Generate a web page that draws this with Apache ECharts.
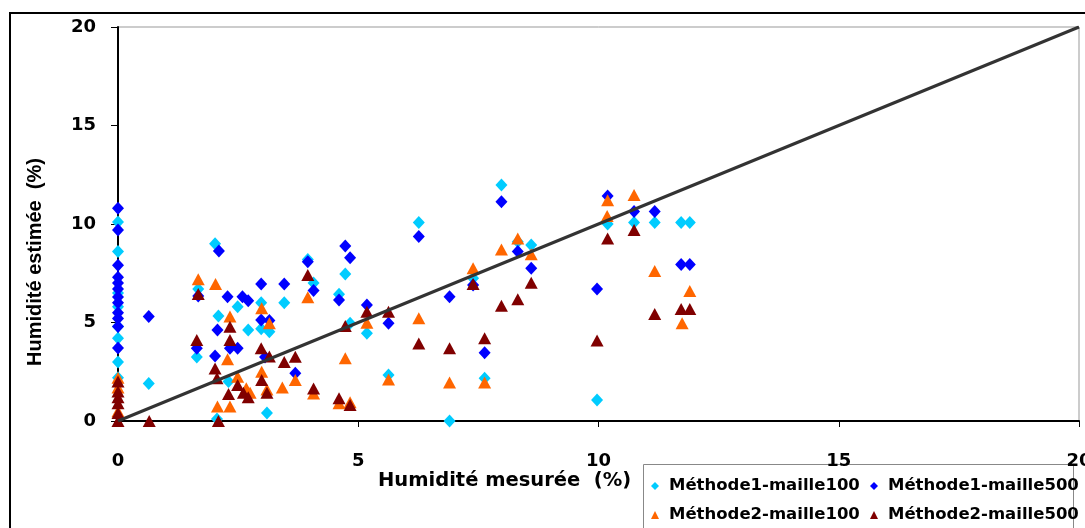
<!DOCTYPE html>
<html>
<head>
<meta charset="utf-8">
<style>
  html, body { margin: 0; padding: 0; background: #fff; }
  #chart { width: 1085px; height: 528px; }
</style>
<script src="https://cdn.jsdelivr.net/npm/echarts@6/dist/echarts.min.js"></script>
</head>
<body>
<div id="chart"></div>
<script>
// 散点数据 [humidité mesurée, humidité estimée]
const methode1Maille100 = [
  [0, 10.1], [0, 8.6], [0, 6.5], [0, 5.8], [0, 4.8], [0, 4.2], [0, 3.0], [0, 2.2],
  [0.64, 1.9], [1.67, 6.7], [1.64, 3.25],
  [2.02, 9.0], [2.09, 5.33], [2.06, 0.1], [2.49, 5.8], [2.3, 2.0], [2.71, 4.62],
  [2.98, 6.0], [2.98, 4.68], [3.15, 4.53], [3.1, 0.4], [3.46, 6.0],
  [3.95, 8.2], [4.07, 7.0], [4.6, 6.43], [4.73, 7.46], [4.83, 4.96], [5.18, 4.45],
  [5.63, 2.33], [6.26, 10.07], [6.9, 0], [7.39, 7.24], [7.63, 2.17], [7.98, 11.98],
  [8.32, 9.1], [8.6, 8.93], [9.97, 1.07], [10.19, 10.0], [10.74, 10.07],
  [11.17, 10.07], [11.72, 10.07], [11.9, 10.07]
];
const methode1Maille500 = [
  [0, 10.8], [0, 9.7], [0, 7.9], [0, 7.3], [0, 7.0], [0, 6.7], [0, 6.3], [0, 6.0],
  [0, 5.5], [0, 5.2], [0, 4.8], [0, 3.7],
  [0.64, 5.3], [1.67, 6.35], [1.64, 3.69],
  [2.1, 8.63], [2.07, 4.62], [2.02, 3.3], [2.28, 6.31], [2.59, 6.31], [2.71, 6.1],
  [2.33, 3.69], [2.49, 3.69], [2.98, 6.95], [2.98, 5.13], [3.06, 3.25], [3.15, 5.1],
  [3.46, 6.95], [3.69, 2.42], [3.95, 8.09], [4.07, 6.62], [4.6, 6.14], [4.73, 8.88],
  [4.83, 8.29], [5.18, 5.89], [5.63, 4.96], [6.26, 9.36],
  [6.9, 6.31], [7.39, 6.9], [7.63, 3.47], [7.98, 11.13], [8.32, 8.6], [8.6, 7.75],
  [9.97, 6.7], [10.19, 11.42], [10.74, 10.63], [11.17, 10.63], [11.72, 7.95], [11.9, 7.95]
];
const methode2Maille100 = [
  [0, 2.2], [0, 1.7], [0, 0.5],
  [1.67, 7.19], [2.03, 6.95], [2.33, 5.3], [2.99, 5.72], [3.15, 4.96], [2.28, 3.13],
  [2.99, 2.5], [2.49, 2.25], [2.67, 1.66], [2.75, 1.44], [3.42, 1.7], [3.1, 1.6],
  [2.07, 0.73], [2.33, 0.73],
  [3.69, 2.08], [3.95, 6.28], [4.07, 1.4], [4.73, 3.18], [4.6, 0.9], [4.83, 0.95],
  [5.18, 4.99], [5.63, 2.11], [6.26, 5.21], [6.9, 1.95], [7.39, 7.75], [7.63, 1.95],
  [7.98, 8.71], [8.32, 9.27], [8.6, 8.46], [10.19, 11.2], [10.18, 10.41],
  [10.74, 11.47], [11.17, 7.61], [11.9, 6.6], [11.74, 4.96]
];
const methode2Maille500 = [
  [0, 2.0], [0, 1.5], [0, 1.2], [0, 0.9], [0, 0.4], [0, 0],
  [0.65, 0], [1.67, 6.45], [1.64, 4.11], [2.33, 4.79], [2.33, 4.11], [2.98, 3.69],
  [3.15, 3.27], [2.02, 2.67], [2.06, 2.17], [2.99, 2.08], [2.49, 1.83], [2.61, 1.44],
  [2.3, 1.37], [2.71, 1.2], [3.1, 1.44], [2.09, 0],
  [3.46, 3.0], [3.69, 3.26], [3.95, 7.41], [4.07, 1.65], [4.73, 4.82], [4.6, 1.15],
  [4.83, 0.81], [5.18, 5.55], [5.63, 5.55], [6.26, 3.94], [6.9, 3.69], [7.39, 6.95],
  [7.63, 4.2], [7.98, 5.85], [8.32, 6.18], [8.6, 7.02], [9.97, 4.08], [10.19, 9.27],
  [10.74, 9.7], [11.17, 5.43], [11.72, 5.69], [11.9, 5.69]
];
// droite 1:1
const diagonale = [[0, 0], [20, 20]];
const seriesNames = ['Méthode1-maille100', 'Méthode1-maille500', 'Méthode2-maille100', 'Méthode2-maille500'];

const WIDE = 'DejaVu Sans, sans-serif';
const ARIAL = 'Liberation Sans, Arial, sans-serif';
const chart = echarts.init(document.getElementById('chart'));

const option = {
  animation: false,
  textStyle: { fontFamily: WIDE },
  grid: {
    left: 118, top: 27, right: 6, bottom: 107,
    outerBoundsMode: 'none',
    show: true, borderColor: '#999', borderWidth: 1
  },
  xAxis: {
    type: 'value', min: 0, max: 20, interval: 5,
    axisLine: { onZero: false, lineStyle: { color: '#000', width: 2 } },
    axisTick: { length: 6, lineStyle: { color: '#000', width: 1 } },
    axisLabel: { color: '#000', fontFamily: WIDE, fontSize: 18, fontWeight: 'bold', margin: 31 },
    splitLine: { show: false }
  },
  yAxis: {
    type: 'value', min: 0, max: 20, interval: 5,
    axisLine: { onZero: false, lineStyle: { color: '#000', width: 2 } },
    axisTick: { length: 7, lineStyle: { color: '#000', width: 1 } },
    axisLabel: { color: '#000', fontFamily: WIDE, fontSize: 18, fontWeight: 'bold', margin: 22 },
    splitLine: { show: false }
  },
  legend: {
    left: 651, top: 474, width: 440, padding: 0,
    itemWidth: 8, itemHeight: 8, itemGap: 5,
    selectedMode: false,
    textStyle: {
      color: '#000', fontFamily: WIDE, fontSize: 16.5, fontWeight: 'bold',
      width: 196, lineHeight: 24, padding: [0, 0, 0, 5]
    },
    data: [
      { name: seriesNames[0], icon: 'diamond' },
      { name: seriesNames[1], icon: 'diamond' },
      { name: seriesNames[2], icon: 'triangle' },
      { name: seriesNames[3], icon: 'triangle' }
    ]
  },
  graphic: [
    {
      type: 'rect', silent: true, z: -1,
      shape: { x: 10, y: 13, width: 1100, height: 560 },
      style: { fill: 'none', stroke: '#000', lineWidth: 2 }
    },
    {
      type: 'rect', silent: true, z: -1,
      shape: { x: 643.5, y: 464.5, width: 430, height: 80 },
      style: { fill: '#fff', stroke: '#888', lineWidth: 1 }
    },
    {
      type: 'text', silent: true,
      x: 378, y: 481,
      style: {
        text: 'Humidité mesurée  (%)', fill: '#000', verticalAlign: 'middle',
        font: 'bold 19.5px ' + WIDE
      }
    },
    {
      type: 'text', silent: true,
      x: 35, y: 262, rotation: Math.PI / 2,
      style: {
        text: 'Humidité estimée  (%)', fill: '#000', align: 'center', verticalAlign: 'middle',
        font: 'bold 20px ' + ARIAL
      }
    }
  ],
  series: [
    {
      name: seriesNames[0], type: 'scatter', symbol: 'diamond', symbolSize: [12, 13],
      itemStyle: { color: '#00CCFF', opacity: 1 }, data: methode1Maille100
    },
    {
      name: seriesNames[1], type: 'scatter', symbol: 'diamond', symbolSize: [12, 13],
      itemStyle: { color: '#0000FF', opacity: 1 }, data: methode1Maille500
    },
    {
      name: seriesNames[2], type: 'scatter', symbol: 'triangle', symbolSize: [13, 12],
      itemStyle: { color: '#FF6600', opacity: 1 }, data: methode2Maille100
    },
    {
      name: seriesNames[3], type: 'scatter', symbol: 'triangle', symbolSize: [13, 12],
      itemStyle: { color: '#800000', opacity: 1 }, data: methode2Maille500
    },
    {
      type: 'line', data: diagonale, symbol: 'none', z: 5,
      lineStyle: { color: '#333', width: 3 }, silent: true
    }
  ]
};
chart.setOption(option);
</script>
</body>
</html>
